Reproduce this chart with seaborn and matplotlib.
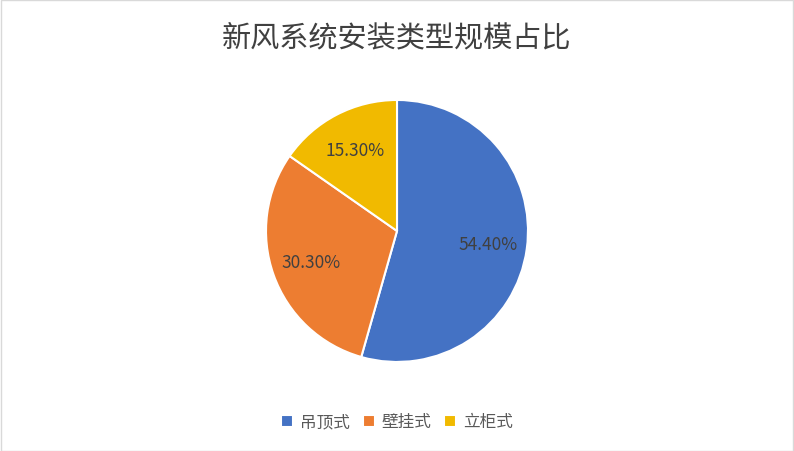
import matplotlib
matplotlib.use("Agg")
import matplotlib.pyplot as plt
import seaborn as sns
from matplotlib.patches import Rectangle

categories = ["吊顶式", "壁挂式", "立柜式"]
shares = [54.40, 30.30, 15.30]
colors = ["#4472C4", "#ED7D31", "#F1BA00"]
title = "新风系统安装类型规模占比"

sns.set_theme(style="white")
plt.rcParams["font.family"] = ["Noto Sans CJK SC", "DejaVu Sans"]

palette = sns.color_palette(colors)

fig = plt.figure(figsize=(7.94, 4.52), dpi=100)
ax = fig.add_axes([0.335, 0.197, 0.33, 0.5796])

wedges, texts, autotexts = ax.pie(
    shares,
    colors=palette,
    startangle=90,
    counterclock=False,
    autopct=lambda p: f"{p:.2f}%",
    pctdistance=0.7,
    wedgeprops=dict(edgecolor="white", linewidth=1.5),
    textprops=dict(color="#404040", fontsize=12.5),
)
ax.set_xlim(-1, 1)
ax.set_ylim(-1, 1)
ax.set_aspect("equal")

fig.text(0.5, 1 - 38 / 452, title, ha="center", va="center",
         fontsize=21, color="#404040")

leg = fig.legend(
    wedges, categories, loc="center", bbox_to_anchor=(0.5, 1 - 423 / 452),
    ncol=3, frameon=False, fontsize=12, handlelength=0.7, handleheight=0.7,
    handletextpad=0.4, columnspacing=0.8,
)
for t in leg.get_texts():
    t.set_color("#595959")

fig.patches.append(Rectangle((0.001, 0.001), 0.998, 0.997, transform=fig.transFigure,
                             fill=False, edgecolor="#D9D9D9", linewidth=1))

fig.savefig("out.png", dpi=100, facecolor="white")
